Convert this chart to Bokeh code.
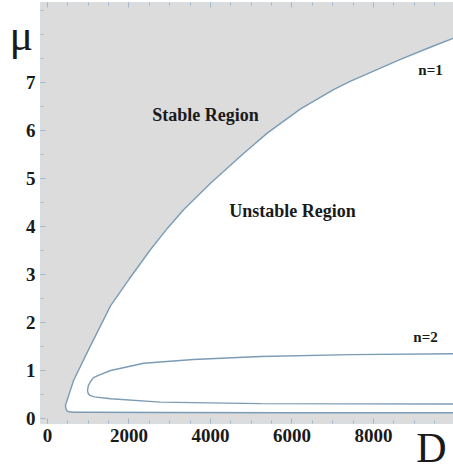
from bokeh.plotting import figure
from bokeh.models import Range1d, FixedTicker, LinearAxis, Label, BoxAnnotation
from bokeh.embed import file_html
from bokeh.resources import INLINE

# n=1 stability boundary (upper branch from cusp, then lower branch)
n1_up_D = [440, 640, 1000, 1550, 2000, 2530, 2950, 3340, 4000, 4810, 5400, 6210, 7020, 7440, 8660, 9470, 9890, 10300]
n1_up_mu = [0.27, 0.79, 1.42, 2.35, 2.90, 3.52, 3.97, 4.35, 4.90, 5.52, 5.95, 6.45, 6.85, 7.03, 7.48, 7.76, 7.90, 8.03]
n1_lo_D = [440, 455, 480, 530, 650, 1000, 3000, 6000, 10300]
n1_lo_mu = [0.27, 0.20, 0.16, 0.14, 0.13, 0.13, 0.125, 0.12, 0.12]

# n=2 boundary (upper branch from right to tip, lower branch from tip to right)
n2_up_D = [10300, 9960, 7440, 5230, 3580, 2360, 1550, 1250, 1129, 1055, 1000, 982]
n2_up_mu = [1.36, 1.35, 1.33, 1.29, 1.23, 1.15, 1.00, 0.90, 0.85, 0.77, 0.68, 0.58]
n2_lo_D = [982, 1000, 1040, 1150, 1550, 2770, 5230, 10300]
n2_lo_mu = [0.58, 0.52, 0.48, 0.45, 0.41, 0.34, 0.31, 0.30]

x_major = [0, 2000, 4000, 6000, 8000]
y_major = [0, 1, 2, 3, 4, 5, 6, 7]

# plotted region of the reference frame
D_MIN, D_MAX = -172, 10600
MU_MIN, MU_MAX = -0.104, 8.667

GRAY = "#dcdcdc"
CURVE = "#7b9cb5"
FRAME = "#a3b8ca"
TXT = "#1a1a1a"
FONT = "Liberation Serif"

p = figure(width=453, height=468, output_backend="svg", toolbar_location=None,
           x_range=Range1d(-1153, 9963), y_range=Range1d(-1.042, 8.708),
           min_border_left=0, min_border_right=0, min_border_top=0, min_border_bottom=0,
           background_fill_color="white", border_fill_color="white",
           x_axis_location=None, y_axis_location=None)
p.xgrid.visible = False
p.ygrid.visible = False
p.outline_line_color = None

# stable (gray) frame area
p.add_layout(BoxAnnotation(left=D_MIN, right=D_MAX, bottom=MU_MIN, top=MU_MAX,
                           fill_color=GRAY, fill_alpha=1, line_color=FRAME,
                           line_width=1, level="underlay"))

# unstable (white) region bounded by n=1 curve
wx = list(n1_up_D) + list(reversed(n1_lo_D))
wy = list(n1_up_mu) + list(reversed(n1_lo_mu))
p.patch(wx, wy, fill_color="white", line_color=None)

# boundary curves
p.line(list(reversed(n1_up_D)) + n1_lo_D[1:], list(reversed(n1_up_mu)) + n1_lo_mu[1:],
       line_color=CURVE, line_width=1.4)
p.line(n2_up_D + n2_lo_D[1:], n2_up_mu + n2_lo_mu[1:], line_color=CURVE, line_width=1.4)

x_minor = [v for v in range(0, 10001, 500)]
y_minor = [v * 0.5 for v in range(0, 18)]

def make_axis(loc, ticks, minor, bounds, labels=True):
    ax = LinearAxis(fixed_location=loc, bounds=bounds)
    ax.ticker = FixedTicker(ticks=ticks, minor_ticks=minor)
    ax.axis_line_color = None
    ax.major_tick_line_color = FRAME
    ax.minor_tick_line_color = FRAME
    ax.major_tick_in = 5
    ax.major_tick_out = 0
    ax.minor_tick_in = 3
    ax.minor_tick_out = 0
    ax.major_label_text_font = FONT
    ax.major_label_text_color = TXT
    ax.major_label_text_font_style = "bold"
    ax.major_label_text_font_size = "19px"
    if not labels:
        ax.major_label_overrides = {t: "" for t in ticks}
        ax.major_label_standoff = 0
    return ax

xa = make_axis(MU_MIN, x_major, x_minor, (D_MIN, D_MAX))
xa.major_label_standoff = 6
p.add_layout(xa, "below")
ya = make_axis(D_MIN, y_major, y_minor, (MU_MIN, MU_MAX))
ya.major_label_standoff = 5
p.add_layout(ya, "left")
ta = make_axis(MU_MAX, x_major, x_minor, (D_MIN, D_MAX), labels=False)
p.add_layout(ta, "above")

def lab(x, y, t, size, align="center", base="middle", style="bold"):
    p.add_layout(Label(x=x, y=y, text=t, text_font=FONT, text_font_size=size,
                       text_color=TXT, text_align=align, text_baseline=base,
                       text_font_style=style))

lab(3877, 6.33, "Stable Region", "18px")
lab(6012, 4.33, "Unstable Region", "18px")
lab(9399, 7.27, "n=1", "15px")
lab(9276, 1.69, "n=2", "15px")
lab(-640, 7.98, "μ", "44px", base="alphabetic", style="normal")
lab(9423, -0.625, "D", "42px", base="alphabetic", style="normal")

open("out.html", "w").write(file_html(p, INLINE))
